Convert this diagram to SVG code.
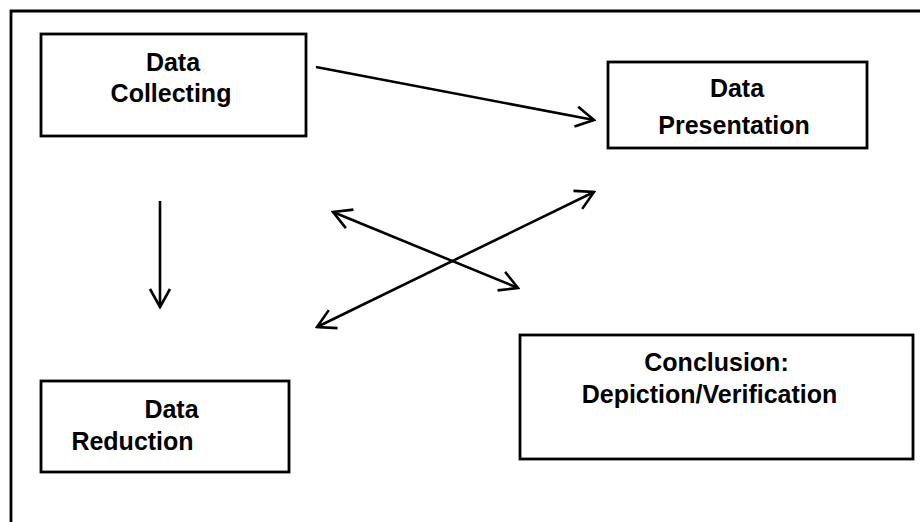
<svg xmlns="http://www.w3.org/2000/svg" width="920" height="522" viewBox="0 0 920 522">
<style>
.box{fill:#fff;stroke:#000;stroke-width:2.8}
.lbl{font-family:"Liberation Sans",Arial,sans-serif;font-weight:bold;font-size:25px;fill:#000;text-anchor:middle}
.conn{stroke:#000;stroke-width:2.6;fill:none}
</style>
<defs>
<marker id="ah" viewBox="-21 -12 23 24" markerWidth="23" markerHeight="24" refX="0" refY="0" markerUnits="userSpaceOnUse" orient="auto-start-reverse">
<path d="M-18,-10 L0,0 L-18,10" fill="none" stroke="#000" stroke-width="2.6"/>
</marker>
</defs>
<rect width="920" height="522" fill="#fff"/>
<path d="M11,522 L11,11 L920,11" fill="none" stroke="#000" stroke-width="2.8"/>
<g id="collecting">
<rect class="box" x="41" y="34" width="265" height="102"/>
<text class="lbl" x="173" y="71">Data</text>
<text class="lbl" x="171" y="102">Collecting</text>
</g>
<g id="presentation">
<rect class="box" x="608" y="62" width="259" height="86"/>
<text class="lbl" x="737" y="97">Data</text>
<text class="lbl" x="734" y="134">Presentation</text>
</g>
<g id="reduction">
<rect class="box" x="41" y="381" width="248" height="91"/>
<text class="lbl" x="171.5" y="418">Data</text>
<text class="lbl" x="132.5" y="450">Reduction</text>
</g>
<g id="conclusion">
<rect class="box" x="520" y="335" width="393" height="124"/>
<text class="lbl" x="716.5" y="371">Conclusion:</text>
<text class="lbl" x="709.5" y="403">Depiction/Verification</text>
</g>
<g id="connectors">
<line class="conn" x1="316" y1="67" x2="594" y2="120" marker-end="url(#ah)"/>
<line class="conn" x1="160" y1="201" x2="160" y2="307" marker-end="url(#ah)"/>
<line class="conn" x1="333" y1="212" x2="518" y2="288" marker-start="url(#ah)" marker-end="url(#ah)"/>
<line class="conn" x1="317" y1="327" x2="594" y2="192" marker-start="url(#ah)" marker-end="url(#ah)"/>
</g>
</svg>
